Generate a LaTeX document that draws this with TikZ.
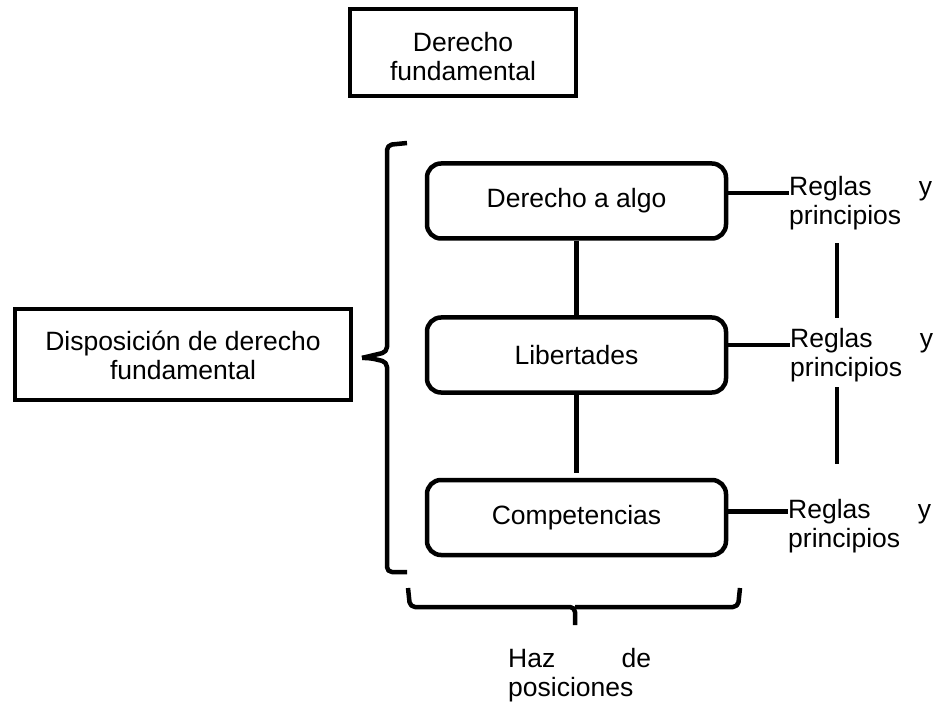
\documentclass[tikz,border=0pt]{standalone}
\usepackage{fontspec}
\setmainfont{Liberation Sans}
\newcommand\diafont{\fontsize{26.5pt}{29pt}\selectfont}
\begin{document}
\begin{tikzpicture}[x=1pt,y=-1pt,
  box/.style={draw, line width=4.5pt, inner sep=0pt, align=center, font=\diafont},
  sqbox/.style={box},
  rbox/.style={box, rounded corners=14pt, minimum width=299pt, minimum height=75pt},
  conn/.style={line width=4.5pt},
  brace/.style={line width=4.5pt, rounded corners=5pt, line join=round},
  lbl/.style={inner sep=0pt, align=left, text width=143pt, anchor=north west, font=\diafont}]
\useasboundingbox (0,0) rectangle (940,703);

% top box
\node[sqbox, minimum width=226pt, minimum height=87pt] (top) at (463,52.5) {\rule{0pt}{28pt}Derecho\\fundamental};
% left box
\node[sqbox, minimum width=336pt, minimum height=91pt] (disp) at (183,354.5) {\rule{0pt}{22pt}Disposición de derecho\\fundamental};

% rounded boxes
\node[rbox] (A) at (576.5,201) {Derecho a algo};
\node[rbox] (B) at (576.5,355) {Libertades};
\node[rbox] (C) at (576.5,517.5) {Competencias};

% right labels
\node[lbl] (r1) at (789,176) {Reglas\hfill y\\principios};
\node[lbl] (r2) at (790,328) {Reglas\hfill y\\principios};
\node[lbl] (r3) at (788,499) {Reglas\hfill y\\principios};

% bottom label
\node[lbl] (haz) at (508,648) {Haz\hfill de\\posiciones};

% connectors between boxes
\draw[conn] (A.south) -- (B.north);
\draw[conn, shorten >=5pt] (B.south) -- (C.north);

% connectors to labels
\draw[conn] ([yshift=8pt]A.east) -- ([yshift=8pt]A.east -| r1.west);
\draw[conn] ([yshift=10pt]B.east) -- ([yshift=10pt]B.east -| r2.west);
\draw[conn] ([yshift=6pt]C.east) -- ([yshift=6pt]C.east -| r3.west);

% vertical lines between labels
\coordinate (vx) at (837,0);
\draw[conn, shorten <=13pt, shorten >=10pt] (r1.south -| vx) -- (r2.north -| vx);
\draw[conn, shorten <=5pt, shorten >=35pt] (r2.south -| vx) -- (r3.north -| vx);

% left brace
\draw[brace] (407,143) -- (387,145) -- (387,352) -- (370,356) -- (362,358);
\draw[brace] (362,358) -- (370,358) -- (387,362) -- (387,572) -- (407,572);

% bottom brace
\draw[brace] (408,588) -- (410,607) -- (575,607) -- (575,625);
\draw[brace] (575,607) -- (738,607) -- (740,588);
\end{tikzpicture}
\end{document}
